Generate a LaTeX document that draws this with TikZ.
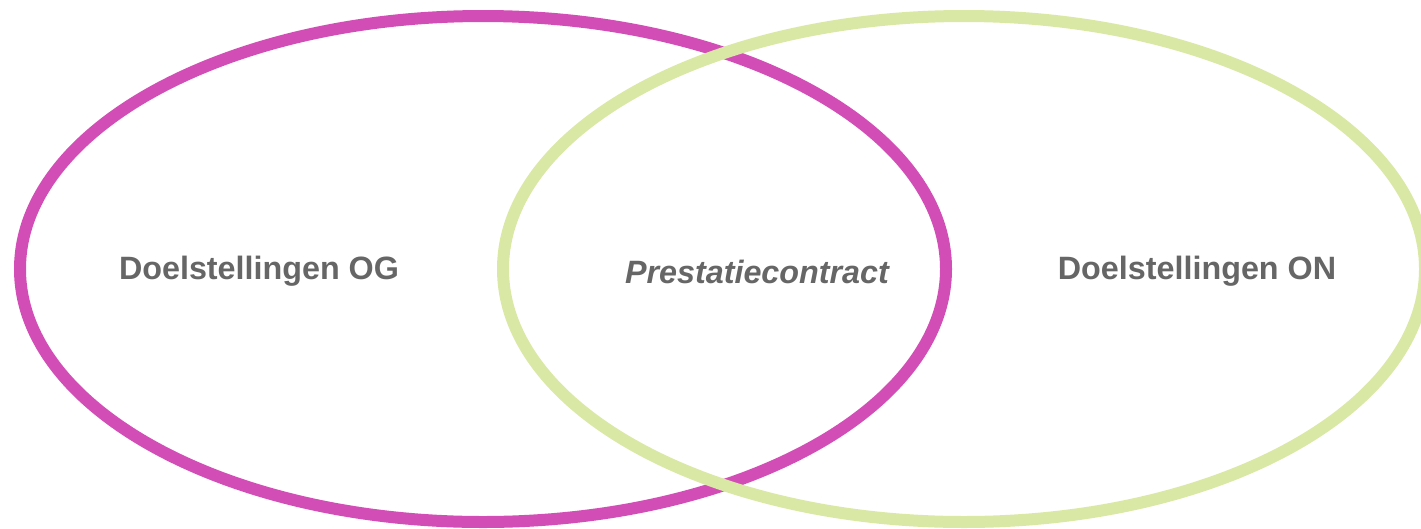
\documentclass[tikz,border=0pt]{standalone}
\usepackage{fontspec}
\setmainfont{Liberation Sans}
\definecolor{ogpink}{HTML}{D24DB5}
\definecolor{ongreen}{HTML}{DAE8A6}
\definecolor{labelgrey}{HTML}{666666}
\begin{document}
\begin{tikzpicture}[x=1pt, y=-1pt, every node/.style={text=labelgrey, font=\fontsize{32.3}{38}\selectfont\bfseries}]

  \useasboundingbox (0,0) rectangle (1421,528);

  % Centres
  \coordinate (cOG) at (483,269);
  \coordinate (cON) at (964,269);

  % Left ellipse
  \draw[ogpink, line width=12pt] (cOG) ellipse (463 and 253);

  % Right ellipse
  \draw[ongreen, line width=12pt] (cON) ellipse (461 and 253);

  % Labels
  \node (og) at (259,271.5) {Doelstellingen OG};
  \node (pc) at (757,271.5) {\itshape Prestatiecontract};
  \node (on) at (1197,271.5) {Doelstellingen ON};

\end{tikzpicture}
\end{document}
